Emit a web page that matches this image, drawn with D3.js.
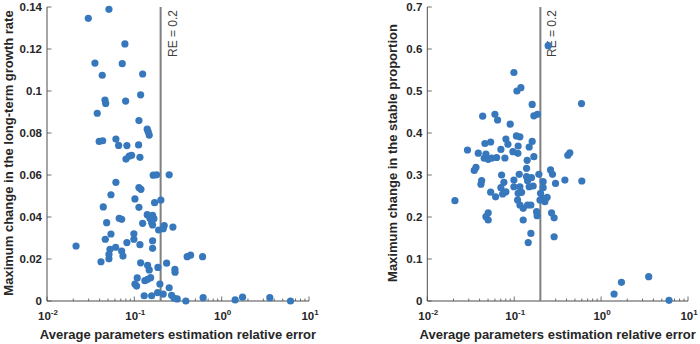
<!DOCTYPE html>
<html>
<head>
<meta charset="utf-8">
<script src="https://cdn.jsdelivr.net/npm/d3@7"></script>
<style>
  body { margin: 0; background: #fff; }
  text { font-family: "Liberation Sans", Arial, sans-serif; }
</style>
</head>
<body>
<script>
// left panel: relative error vs change in long-term growth rate
var leftRE = [0.0512, 0.0297, 0.0780, 0.0354, 0.0727, 0.0429, 0.1245, 0.118, 0.0461, 0.0470,
  0.0795, 0.0376, 0.1129, 0.1405, 0.1442, 0.1481, 0.0396, 0.0434, 0.0615, 0.0661,
  0.0822, 0.1119, 0.0802, 0.0874, 0.0931, 0.1159, 0.1644, 0.1799, 0.2506, 0.0615,
  0.1129, 0.119, 0.0540, 0.1016, 0.1706, 0.2014, 0.0441, 0.1129, 0.0671, 0.0716,
  0.0482, 0.1245, 0.1405, 0.1618, 0.1507, 0.1675, 0.1578, 0.1618, 0.2198, 0.2143,
  0.1897, 0.2765, 0.0215, 0.0540, 0.0465, 0.0988, 0.0988, 0.0822, 0.1159, 0.1618,
  0.1618, 0.0611, 0.0526, 0.0512, 0.0512, 0.0716, 0.0741, 0.0415, 0.118, 0.1419,
  0.1481, 0.1862, 0.2343, 0.2914, 0.2925, 0.1079, 0.1016, 0.1062, 0.1321, 0.1419,
  0.1537, 0.1963, 0.2506, 0.1297, 0.1578, 0.1848, 0.2143, 0.2672, 0.2861, 0.3097,
  0.389, 0.4027, 0.4406, 0.6047, 0.6137, 1.427, 1.734, 3.56, 6.14];
var leftGrowth = [0.1389, 0.1346, 0.1224, 0.1133, 0.1130, 0.1075, 0.1081, 0.0982, 0.0957, 0.0941,
  0.0952, 0.0894, 0.0859, 0.0818, 0.0806, 0.0790, 0.0760, 0.0763, 0.0771, 0.0741,
  0.0740, 0.0743, 0.0676, 0.0690, 0.0694, 0.0684, 0.0599, 0.0601, 0.0601, 0.0565,
  0.0540, 0.0532, 0.0506, 0.0486, 0.0468, 0.0481, 0.0448, 0.0446, 0.0394, 0.0389,
  0.0373, 0.0370, 0.0411, 0.0408, 0.0394, 0.0392, 0.0373, 0.0362, 0.0359, 0.0344,
  0.0338, 0.0352, 0.0262, 0.0319, 0.0294, 0.0320, 0.0294, 0.0278, 0.0268, 0.0287,
  0.0251, 0.0256, 0.0246, 0.0222, 0.0201, 0.0238, 0.0214, 0.0187, 0.0182, 0.0170,
  0.0148, 0.0160, 0.0180, 0.0151, 0.0137, 0.0110, 0.0081, 0.0071, 0.0097, 0.0103,
  0.0111, 0.0081, 0.0063, 0.0025, 0.0025, 0.0040, 0.0033, 0.0027, 0.0013, 0.0010,
  0.0000, 0.0211, 0.0218, 0.0211, 0.0016, 0.0005, 0.0018, 0.0016, 0.0000];

// right panel: relative error vs change in the stable proportion
var rightRE = [0.246, 0.1074, 0.1194, 0.0992, 0.595, 0.161, 0.1684, 0.185, 0.0434, 0.060,
  0.0644, 0.090, 0.029, 0.0386, 0.046, 0.0536, 0.0803, 0.0847, 0.106, 0.1163,
  0.111, 0.161, 0.1487, 0.0703, 0.0966, 0.1103, 0.0473, 0.0452, 0.0502, 0.055,
  0.0628, 0.0782, 0.1684, 0.141, 0.414, 0.4365, 0.0363, 0.0347, 0.0422, 0.0414,
  0.0536, 0.0611, 0.0208, 0.0716, 0.0761, 0.0703, 0.0736, 0.0803, 0.0992, 0.0992,
  0.1142, 0.1163, 0.111, 0.1216, 0.1388, 0.1426, 0.158, 0.1487, 0.1653, 0.1388,
  0.1923, 0.2153, 0.2153, 0.201, 0.212, 0.2393, 0.2254, 0.198, 0.1094, 0.1163,
  0.1269, 0.1426, 0.1556, 0.181, 0.1836, 0.1269, 0.1556, 0.145, 0.262, 0.276,
  0.299, 0.383, 0.600, 0.269, 0.288, 0.288, 0.0473, 0.0502, 0.0502, 1.41,
  1.715, 3.53, 6.05];
var rightProp = [0.608, 0.500, 0.508, 0.544, 0.470, 0.468, 0.441, 0.4445, 0.440, 0.4445,
  0.431, 0.421, 0.3595, 0.352, 0.375, 0.3786, 0.3857, 0.373, 0.393, 0.391,
  0.369, 0.380, 0.3667, 0.361, 0.3555, 0.3517, 0.350, 0.340, 0.3374, 0.340,
  0.3417, 0.3405, 0.3436, 0.335, 0.347, 0.353, 0.318, 0.311, 0.2864, 0.278,
  0.259, 0.248, 0.2388, 0.300, 0.2826, 0.2698, 0.2548, 0.260, 0.288, 0.272,
  0.3017, 0.272, 0.2564, 0.2588, 0.296, 0.2864, 0.2936, 0.272, 0.2738, 0.316,
  0.3017, 0.284, 0.2698, 0.2564, 0.2445, 0.247, 0.2364, 0.2405, 0.2405, 0.2286,
  0.2207, 0.2286, 0.2286, 0.2126, 0.203, 0.1929, 0.161, 0.139, 0.312, 0.3017,
  0.280, 0.288, 0.2857, 0.210, 0.198, 0.153, 0.2007, 0.210, 0.1929, 0.0167,
  0.0445, 0.058, 0.0017];

var xTicks = [0.01, 0.1, 1, 10];
var xExponents = ["-2", "-1", "0", "1"];
var leftYTicks = [0, 0.02, 0.04, 0.06, 0.08, 0.1, 0.12, 0.14];
var rightYTicks = [0, 0.1, 0.2, 0.3, 0.4, 0.5, 0.6, 0.7];
var threshold = 0.2;
var xTitle = "Average parameters estimation relative error";
var leftYTitle = "Maximum change in the long-term growth rate";
var rightYTitle = "Maximum change in the stable proportion";

var w = 700;
var h = 344;
var dotColor = "#3778bd";
var axisColor = "#4d4d4d";
var textColor = "#262626";

var svg = d3.select("body")
    .append("svg")
    .attr("width", w)
    .attr("height", h);

function panel(xs, ys, yTicks, yMax, x0, x1, yTitle, yTitleX) {
    var top = 7, bottom = 301;

    var xScale = d3.scaleLog()
        .domain([0.01, 10])
        .range([x0, x1]);

    var yScale = d3.scaleLinear()
        .domain([0, yMax])
        .range([bottom, top]);

    var g = svg.append("g");

    // minor ticks on the log axis, pointing inward
    var minors = [];
    for (var e = -2; e < 1; e++) {
        for (var k = 2; k < 10; k++) {
            minors.push(k * Math.pow(10, e));
        }
    }
    g.selectAll("line.minor")
        .data(minors)
        .enter()
        .append("line")
        .attr("class", "minor")
        .attr("x1", function(d) { return xScale(d); })
        .attr("x2", function(d) { return xScale(d); })
        .attr("y1", bottom)
        .attr("y2", bottom - 2.5)
        .attr("stroke", axisColor)
        .attr("stroke-width", 0.8);

    g.selectAll("line.major")
        .data(xTicks)
        .enter()
        .append("line")
        .attr("class", "major")
        .attr("x1", function(d) { return xScale(d); })
        .attr("x2", function(d) { return xScale(d); })
        .attr("y1", bottom)
        .attr("y2", bottom - 4.5)
        .attr("stroke", axisColor)
        .attr("stroke-width", 0.8);

    g.selectAll("line.ytick")
        .data(yTicks)
        .enter()
        .append("line")
        .attr("class", "ytick")
        .attr("x1", x0)
        .attr("x2", x0 + 4.5)
        .attr("y1", function(d) { return yScale(d); })
        .attr("y2", function(d) { return yScale(d); })
        .attr("stroke", axisColor)
        .attr("stroke-width", 0.8);

    // axis lines
    g.append("line")
        .attr("x1", x0).attr("x2", x0)
        .attr("y1", top).attr("y2", bottom)
        .attr("stroke", axisColor);
    g.append("line")
        .attr("x1", x0).attr("x2", x1)
        .attr("y1", bottom).attr("y2", bottom)
        .attr("stroke", axisColor);

    // tick labels
    g.selectAll("text.ylab")
        .data(yTicks)
        .enter()
        .append("text")
        .attr("class", "ylab")
        .attr("x", x0 - 5)
        .attr("y", function(d) { return yScale(d) + 4; })
        .attr("text-anchor", "end")
        .attr("font-size", "11.5px")
        .attr("font-weight", "bold")
        .attr("fill", textColor)
        .text(function(d) { return d3.format("~g")(d); });

    var xl = g.selectAll("text.xlab")
        .data(xTicks)
        .enter()
        .append("text")
        .attr("class", "xlab")
        .attr("x", function(d) { return xScale(d) + 1; })
        .attr("y", 320)
        .attr("text-anchor", "middle")
        .attr("font-size", "11.5px")
        .attr("font-weight", "bold")
        .attr("fill", textColor);
    xl.append("tspan").text("10");
    xl.append("tspan")
        .attr("dy", -5)
        .attr("font-size", "8px")
        .text(function(d, i) { return xExponents[i]; });

    // threshold line and label
    g.append("line")
        .attr("x1", xScale(threshold)).attr("x2", xScale(threshold))
        .attr("y1", top).attr("y2", bottom)
        .attr("stroke", "#7f7f7f")
        .attr("stroke-width", 2);

    g.append("text")
        .attr("transform", "translate(" + (xScale(threshold) + 16) + "," + 57 + ") rotate(-90)")
        .attr("font-size", "12px")
        .attr("fill", "#404040")
        .text("RE = " + threshold);

    // points
    g.selectAll("circle")
        .data(xs)
        .enter()
        .append("circle")
        .attr("cx", function(d) { return xScale(d); })
        .attr("cy", function(d, i) { return yScale(ys[i]); })
        .attr("r", 3.6)
        .attr("fill", dotColor);

    // axis titles
    g.append("text")
        .attr("x", (x0 + x1) / 2)
        .attr("y", 339)
        .attr("text-anchor", "middle")
        .attr("font-size", "13px")
        .attr("font-weight", "bold")
        .attr("fill", textColor)
        .text(xTitle);

    g.append("text")
        .attr("transform", "translate(" + yTitleX + "," + 153 + ") rotate(-90)")
        .attr("text-anchor", "middle")
        .attr("font-size", "13px")
        .attr("font-weight", "bold")
        .attr("fill", textColor)
        .text(yTitle);
}

panel(leftRE, leftGrowth, leftYTicks, 0.14, 47, 309, leftYTitle, 13);
panel(rightRE, rightProp, rightYTicks, 0.7, 427.3, 688, rightYTitle, 397);
</script>
</body>
</html>
